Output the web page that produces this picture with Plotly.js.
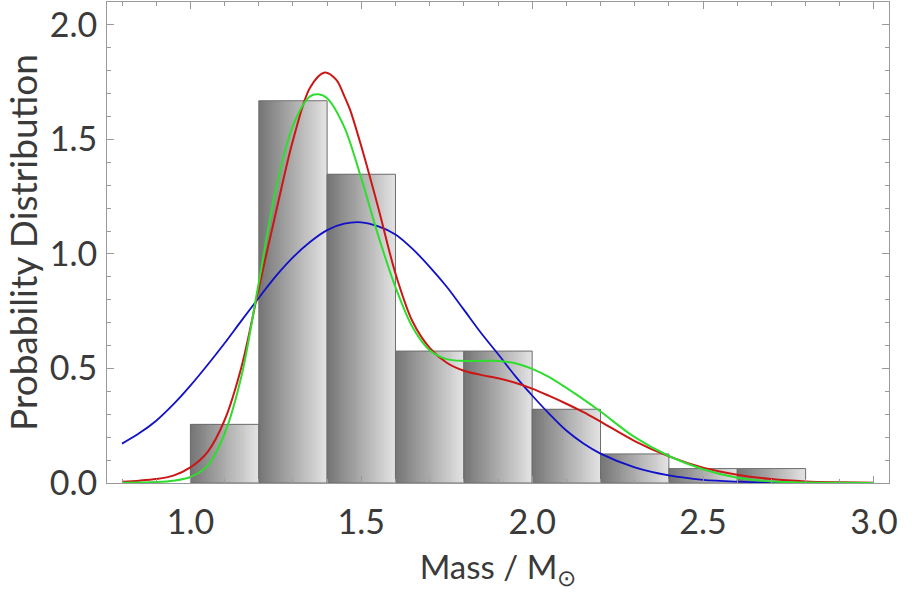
<!DOCTYPE html>
<html>
<head>
<meta charset="utf-8">
<script src="https://cdn.plot.ly/plotly-3.0.1.min.js"></script>
<style>html,body{margin:0;padding:0;background:#fff;}#chart{width:918px;height:609px;}</style>
</head>
<body>
<div id="chart"></div>
<script>
// Histogram (probability density), bins of width 0.2
const binLefts = [1.0, 1.2, 1.4, 1.6, 1.8, 2.0, 2.2, 2.4, 2.6];
const binWidth = 0.2;
const density = [0.256, 1.669, 1.348, 0.576, 0.576, 0.322, 0.127, 0.063, 0.063];

// Blue curve
const blueX = [0.8, 0.85, 0.9, 0.95, 1.0, 1.05, 1.1, 1.15, 1.2, 1.25, 1.3, 1.35, 1.4, 1.45, 1.5, 1.55, 1.6, 1.65, 1.7, 1.75, 1.8, 1.85, 1.9, 1.95, 2.0, 2.05, 2.1, 2.15, 2.2, 2.3, 2.4, 2.5, 2.6, 2.7, 2.8, 2.9, 3.0];
const blueY = [0.172, 0.217, 0.272, 0.343, 0.425, 0.515, 0.610, 0.710, 0.808, 0.903, 0.985, 1.052, 1.104, 1.132, 1.138, 1.120, 1.085, 1.022, 0.944, 0.857, 0.757, 0.656, 0.563, 0.468, 0.382, 0.302, 0.229, 0.172, 0.128, 0.068, 0.033, 0.014, 0.006, 0.002, 0.001, 0.0, 0.0];

// Red curve
const redX = [0.8, 0.85, 0.9, 0.95, 1.0, 1.05, 1.1, 1.15, 1.2, 1.25, 1.3, 1.35, 1.393, 1.427, 1.45, 1.467, 1.5, 1.55, 1.6, 1.65, 1.7, 1.75, 1.8, 1.85, 1.9, 1.95, 2.0, 2.05, 2.1, 2.15, 2.2, 2.3, 2.4, 2.5, 2.6, 2.7, 2.8, 2.9, 3.0];
const redY = [0.006, 0.010, 0.017, 0.032, 0.068, 0.135, 0.274, 0.510, 0.850, 1.180, 1.495, 1.726, 1.792, 1.760, 1.690, 1.630, 1.470, 1.200, 0.915, 0.705, 0.590, 0.525, 0.490, 0.472, 0.457, 0.438, 0.412, 0.380, 0.346, 0.309, 0.268, 0.183, 0.116, 0.067, 0.036, 0.017, 0.007, 0.003, 0.001];

// Green curve
const greenX = [0.8, 0.85, 0.9, 0.95, 1.0, 1.05, 1.1, 1.15, 1.2, 1.25, 1.3, 1.35, 1.374, 1.4, 1.45, 1.5, 1.55, 1.6, 1.65, 1.7, 1.75, 1.8, 1.85, 1.9, 1.95, 2.0, 2.05, 2.1, 2.15, 2.2, 2.3, 2.4, 2.5, 2.6, 2.7, 2.8, 2.9, 3.0];
const greenY = [0.001, 0.002, 0.004, 0.010, 0.026, 0.075, 0.215, 0.470, 0.875, 1.280, 1.560, 1.688, 1.697, 1.680, 1.555, 1.330, 1.078, 0.855, 0.680, 0.580, 0.541, 0.533, 0.533, 0.533, 0.523, 0.498, 0.462, 0.415, 0.365, 0.312, 0.200, 0.118, 0.060, 0.023, 0.007, 0.002, 0.001, 0.0];

const xTickVals = [1.0, 1.5, 2.0, 2.5, 3.0];
const yTickVals = [0.0, 0.5, 1.0, 1.5, 2.0];

const traces = [];
// gradient fill: overlapping slices, dark on the left to light on the right
const N = 36;
const dw = binWidth / N;
for (let k = 0; k < N; k++) {
  const t = k / (N - 1);
  const c = Math.round(118 + t * 108);
  traces.push({
    type: 'bar',
    x: binLefts.map(l => l + k * dw),
    y: density,
    width: binWidth - k * dw,
    offset: 0,
    marker: {color: `rgb(${c},${c},${c})`, line: {width: 0}},
    hoverinfo: 'skip',
    showlegend: false
  });
}
// outlines
traces.push({
  type: 'bar',
  x: binLefts,
  y: density,
  width: binWidth,
  offset: 0,
  marker: {color: 'rgba(0,0,0,0)', line: {width: 1, color: '#6e6e6e'}},
  hoverinfo: 'skip',
  showlegend: false
});

traces.push({type: 'scatter', mode: 'lines', x: blueX, y: blueY,
  line: {color: '#1010c8', width: 1.8, shape: 'spline', smoothing: 0.9}, showlegend: false});
traces.push({type: 'scatter', mode: 'lines', x: redX, y: redY,
  line: {color: '#cc1616', width: 2, shape: 'spline', smoothing: 0.9}, showlegend: false});
traces.push({type: 'scatter', mode: 'lines', x: greenX, y: greenY,
  line: {color: '#30dc30', width: 2, shape: 'spline', smoothing: 0.9}, showlegend: false});

const fam = 'Lato, "Open Sans", sans-serif';
const tickFont = {family: fam, size: 34, color: '#3a3a3a'};
const axisCommon = {
  showgrid: false, zeroline: false,
  showline: true, linecolor: '#9a9a9a', linewidth: 1, mirror: 'ticks',
  ticks: 'inside', ticklen: 7, tickwidth: 1, tickcolor: '#9a9a9a',
  tickfont: tickFont, tickformat: '.1f'
};

const layout = {
  width: 918, height: 609,
  margin: {l: 107, r: 29, t: 2, b: 126, pad: 0},
  paper_bgcolor: '#ffffff', plot_bgcolor: '#ffffff',
  barmode: 'overlay', bargap: 0,
  showlegend: false,
  xaxis: Object.assign({}, axisCommon, {
    range: [0.756, 3.044],
    tickvals: xTickVals,
    minor: {dtick: 0.1, tick0: 0.8, ticks: 'inside', ticklen: 4, tickcolor: '#9a9a9a', showgrid: false},
    ticklabelstandoff: 9,
    title: {text: 'Mass / M<sub>⊙</sub>', font: {family: fam, size: 33, color: '#3a3a3a'}, standoff: 16}
  }),
  yaxis: Object.assign({}, axisCommon, {
    range: [0, 2.10],
    tickvals: yTickVals,
    minor: {dtick: 0.1, tick0: 0, ticks: 'inside', ticklen: 4, tickcolor: '#9a9a9a', showgrid: false},
    ticklabelstandoff: 2,
    title: {text: 'Probability Distribution', font: {family: fam, size: 37, color: '#3a3a3a'}, standoff: 4}
  })
};

Plotly.newPlot('chart', traces, layout, {staticPlot: true, displayModeBar: false});
</script>
</body>
</html>
